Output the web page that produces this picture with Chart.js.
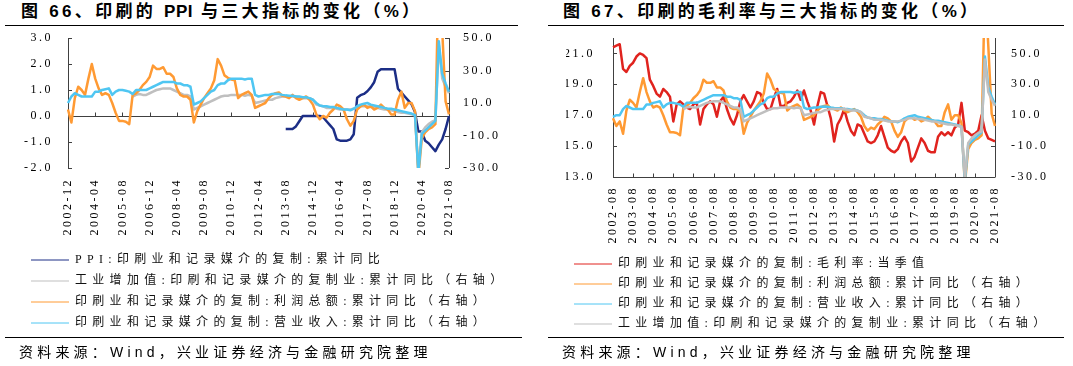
<!DOCTYPE html>
<html lang="zh-CN">
<head>
  <meta charset="UTF-8" />
  <title>印刷的 PPI、毛利率与三大指标的变化</title>
  <script src="https://cdn.jsdelivr.net/npm/chart.js"></script>
  <style>
    html, body {
      margin: 0;
      padding: 0;
      background: #fff;
    }
    body {
      width: 1073px;
      height: 366px;
      position: relative;
      overflow: hidden;
      font-family: "Liberation Sans", "Noto Sans CJK SC", sans-serif;
      color: #000;
    }
    .fig-title {
      position: absolute;
      top: 0;
      height: 26px;
      box-sizing: border-box;
      border-bottom: 1.3px solid #000;
      font-size: 17px;
      font-weight: bold;
      letter-spacing: 3.3px;
      line-height: 24px;
      white-space: nowrap;
    }
    .fig-title .latin {
      letter-spacing: 0.5px;
    }
    .fig-source {
      position: absolute;
      top: 337px;
      height: 29px;
      box-sizing: border-box;
      border-top: 1px solid #000;
      font-size: 14px;
      letter-spacing: 4.2px;
      line-height: 28px;
      white-space: nowrap;
    }
    .chart-box {
      position: absolute;
      top: 28px;
    }
  </style>
</head>
<body>
  <div class="fig-title" style="left:5px;width:513px;padding-left:16px">图 66、印刷的 <span class="latin">PPI</span> 与三大指标的变化（%）</div>
  <div class="fig-title" style="left:548px;width:516px;padding-left:15px">图 67、印刷的毛利率与三大指标的变化（%）</div>

  <div class="chart-box" style="left:0px;width:536px;height:311px">
    <canvas id="ppiChart" width="536" height="311"></canvas>
  </div>
  <div class="chart-box" style="left:540px;width:533px;height:312px">
    <canvas id="marginChart" width="533" height="312"></canvas>
  </div>

  <div class="fig-source" style="left:5px;width:517px;padding-left:14px">资料来源：Wind，兴业证券经济与金融研究院整理</div>
  <div class="fig-source" style="left:548px;width:516px;padding-left:14px">资料来源：Wind，兴业证券经济与金融研究院整理</div>

  <script>
    // bi-monthly categories, 2002-08 .. 2021-08
    const months = [];
    for (let k = 0; k < 115; k++) {
      const t = 2002 * 12 + 7 + 2 * k;
      months.push(Math.floor(t / 12) + '-' + String(t % 12 + 1).padStart(2, '0'));
    }
    const labels2 = months;            // 图67
    const labels1 = months.slice(2);   // 图66 starts 2002-12

    const tickLabels1 = ['2002-12', '2004-04', '2005-08', '2006-12', '2008-04', '2009-08', '2010-12', '2012-04',
      '2013-08', '2014-12', '2016-04', '2017-08', '2018-12', '2020-04', '2021-08'];
    const tickLabels2 = ['2002-08', '2003-08', '2004-08', '2005-08', '2006-08', '2007-08', '2008-08', '2009-08',
      '2010-08', '2011-08', '2012-08', '2013-08', '2014-08', '2015-08', '2016-08', '2017-08', '2018-08',
      '2019-08', '2020-08', '2021-08'];

    // 利润总额:累计同比 (%), 2002-08 .. 2021-08
    const profit = [8, 3,
      6, -2, 13, 20, 18, 15, 25, 34, 25, 19,
      15, 16, 15, 10, 4, -1, -1, -1.5, -3, 15,
      16, 18, 21, 23, 26, 33, 31, 31, 32, 28,
      28, 26, 19, 15, 14, 14, 12, -2, 5, 9,
      13, 16, 19, 24, 37, 33, 27, 25.5, 24.5, 24,
      13, 15, 16, 17, 15, 7, 8, 9, 10, 13,
      15, 16, 16.5, 14.5, 14, 13, 15, 13, 12, 13,
      14, 12, 9, 3, 0, 2, 1, 4, 6, 9,
      8, 6, 0, -4, -1, 6, 8, 9, 7, 8,
      6, 7, 9, 7, 6, 3, 3, 12, 17, 7,
      10, 10, 5, -35, -12, -8, -6, -5, -3, 95,
      55, 11, 3];

    // 营业收入:累计同比 (%)
    const revenue = [9, 10,
      10, 14, 16, 15, 14, 14, 14, 14, 17, 17,
      18, 18.5, 19, 15, 17, 18, 18, 17.5, 17, 15.5,
      18, 18, 18, 18, 19, 20, 21, 22, 23, 23,
      23, 23, 22, 22, 21, 21, 20, 9, 10, 11,
      13, 15, 17, 18, 21, 22, 22, 24, 25, 25,
      25, 25, 24.5, 25, 25, 15, 14, 14.5, 15, 15,
      15.5, 15.7, 15.5, 15, 14.7, 14.5, 14.5, 14, 14, 13.5,
      13.5, 13, 12, 10, 8.5, 8, 8, 7.5, 7.5, 7,
      6.5, 6, 6, 5.5, 6.5, 8, 9, 9.5, 10, 9,
      8.5, 8, 7.5, 7, 6.5, 6.5, 6, 5.5, 5, 4.5,
      4, 3.5, 2.5, -33, -9, -7, -5, -3, -1, 48,
      28, 22, 17];

    // 工业增加值:累计同比 (%), from 2006-02
    const valueAddedValues = [14,
      15, 15.5, 15, 15, 16, 17, 18, 18.5, 19, 19,
      19, 18, 17, 16, 15, 15, 14, 6, 7, 8,
      9, 10, 11, 12, 13, 14, 14.5, 14.5, 15, 15,
      15, 15, 14.5, 15, 14.5, 10, 10.5, 11, 11.5, 12,
      12, 13, 13.5, 14, 14, 14, 14, 14, 13.5, 13,
      13, 13, 12, 9, 8.5, 8, 7, 7, 7, 6.5,
      6, 6, 6, 6, 6.5, 7, 8, 8, 8, 7.5,
      7.5, 7, 6.5, 6, 6, 5.5, 5, 4.5, 4, 4,
      3.5, 3, 2.5, -31, -8, -5, -3, -1.5, -0.5, 46,
      25, 20, 16];

    // PPI:累计同比 (%), from 2013-08
    const ppiValues = [-0.5, -0.5, -0.5, -0.4, -0.2, 0,
      0, 0, 0, 0, 0, -0.05, -0.2, -0.35, -0.5, -0.9,
      -0.95, -0.95, -0.95, -0.9, -0.7, 0.7, 0.8, 0.85, 0.95, 1.1,
      1.3, 1.7, 1.8, 1.8, 1.8, 1.8, 1.8, 1.05, 0.9, 0.75,
      0.6, 0.45, 0.15, -0.6, -0.6, -0.95, -1.05, -1.2, -1.35, -1.1,
      -0.9, -0.5, 0];

    // 毛利率:当季值 (%)
    const grossMargin = [21.4, 21.5, 21.6, 20.0, 19.8, 20.2, 20.4, 20.8, 21.0, 20.9,
      20.7, 19.3, 18.9, 18.4, 18.2, 18.7, 18.5, 18.2, 16.6, 17.7,
      17.9, 17.7, 17.5, 17.4, 17.7, 17.8, 16.4, 17.4, 17.7, 17.9,
      17.7, 16.9, 17.9, 18.2, 17.4, 16.8, 16.4, 17.0, 17.9, 18.3,
      17.9, 17.5, 17.9, 18.5, 18.4, 17.8, 17.4, 17.4, 18.1, 18.7,
      17.6, 17.6, 17.8, 17.9, 18.2, 18.6, 18.0, 18.6, 17.9, 17.3,
      16.4, 17.6, 18.5, 18.4, 17.6, 16.8, 15.3, 16.4, 16.8, 17.4,
      16.6, 16.0, 15.7, 16.4, 16.3, 15.8, 15.3, 15.2, 15.3, 15.7,
      16.3, 15.6, 14.9, 14.7, 14.6, 14.8, 15.3, 15.6, 15.2, 14.0,
      14.3, 14.9, 15.5, 15.2, 14.7, 14.6, 14.6, 15.6, 15.9, 15.7,
      15.9, 15.7, 16.2, 16.4, 17.8, 16.0, 15.9, 15.7, 15.8, 16.0,
      17.0, 16.0, 15.5, 15.4, 15.3];

    // leading gaps for series that start later
    const lead = (n, arr) => Array(n - arr.length).fill(null).concat(arr);
    const valueAdded = lead(labels2.length, valueAddedValues);
    const ppi = lead(labels1.length, ppiValues);

    const NAVY = '#1c2e86';
    const GREY = '#bfbfbf';
    const ORANGE = '#ff9a33';
    const BLUE = '#4fc6f2';
    const RED = '#e0231e';

    const serif = '"Liberation Serif", "Noto Sans CJK SC", serif';

    // axis lines with inward tick marks, drawn under the series
    const axisFrame = {
      id: 'axisFrame',
      beforeDatasetsDraw(chart, args, opts) {
        const {ctx, chartArea: a, scales} = chart;
        const px = v => Math.round(v) + 0.5;
        const baseY = opts.baseValue === undefined ? a.bottom : scales.y.getPixelForValue(opts.baseValue);
        ctx.save();
        ctx.strokeStyle = '#404040';
        ctx.lineWidth = 1;
        ctx.beginPath();
        ctx.moveTo(px(a.left), a.top); ctx.lineTo(px(a.left), a.bottom);
        ctx.moveTo(px(a.right), a.top); ctx.lineTo(px(a.right), a.bottom);
        ctx.moveTo(a.left, px(baseY)); ctx.lineTo(a.right, px(baseY));
        scales.y.ticks.forEach(t => {
          const y = px(scales.y.getPixelForValue(t.value));
          ctx.moveTo(a.left, y); ctx.lineTo(a.left + 4, y);
        });
        scales.y1.ticks.forEach(t => {
          const y = px(scales.y1.getPixelForValue(t.value));
          ctx.moveTo(a.right, y); ctx.lineTo(a.right - 4, y);
        });
        scales.x.ticks.forEach(t => {
          const x = px(scales.x.getPixelForValue(t.value));
          ctx.moveTo(x, px(baseY)); ctx.lineTo(x, px(baseY) - 4);
        });
        ctx.stroke();
        ctx.restore();
      }
    };

    // the source picture has wide letter spacing on every text
    const letterSpacing = {
      id: 'letterSpacing',
      beforeDraw(chart, args, opts) {
        Object.values(chart.scales).forEach(scale => {
          if (scale._spaced) return;
          const orig = scale.drawLabels;
          scale.drawLabels = function (area) {
            this.ctx.save();
            this.ctx.letterSpacing = opts[this.id] || '0px';
            orig.call(this, area);
            this.ctx.restore();
          };
          scale._spaced = true;
        });
        const legend = chart.legend;
        if (legend && !legend._spaced) {
          const orig = legend.draw;
          legend.draw = function (area) {
            this.ctx.save();
            this.ctx.letterSpacing = opts.legend || '0px';
            orig.call(this, area);
            this.ctx.restore();
          };
          legend._spaced = true;
        }
      }
    };

    function xScale(tickLabels, height, padding) {
      return {
        type: 'category',
        offset: false,
        grid: { display: false, drawTicks: false },
        border: { display: false },
        ticks: {
          autoSkip: false,
          maxRotation: 90,
          minRotation: 90,
          padding: padding,
          color: '#000',
          font: { family: serif, size: 12 }
        },
        afterBuildTicks: s => {
          s.ticks = s.ticks.filter(t => tickLabels.includes(s.getLabelForValue(t.value)));
        },
        afterFit: s => { s.height = height; }
      };
    }

    // gap between axis line and labels comes from tickLength (the marks themselves are drawn by axisFrame)
    function yScale(position, min, max, tickValues, width, gap) {
      return {
        position: position,
        min: min,
        max: max,
        grid: { display: false, drawTicks: true, tickLength: gap },
        border: { display: false },
        ticks: {
          padding: 2,
          color: '#000',
          font: { family: serif, size: 12 },
          callback: v => Number(v).toFixed(1)
        },
        afterBuildTicks: s => { s.ticks = tickValues.map(v => ({ value: v })); },
        afterFit: s => { s.width = width; }
      };
    }

    function legendOptions(padding) {
      return {
        position: 'bottom',
        align: 'start',
        labels: {
          usePointStyle: true,
          pointStyle: 'line',
          pointStyleWidth: 38,
          padding: padding,
          color: '#111',
          font: { family: serif, size: 12 },
          sort: (a, b) => a.datasetIndex - b.datasetIndex
        }
      };
    }

    const common = {
      responsive: false,
      animation: false,
      events: [],
      elements: {
        line: { borderWidth: 2.5, tension: 0, borderJoinStyle: 'round' },
        point: { radius: 0 }
      }
    };

    new Chart(document.getElementById('ppiChart'), {
      type: 'line',
      data: {
        labels: labels1,
        datasets: [
          { label: 'PPI:印刷业和记录媒介的复制:累计同比', data: ppi, borderColor: NAVY, backgroundColor: NAVY, yAxisID: 'y', order: 3 },
          { label: '工业增加值:印刷和记录媒介的复制业:累计同比（右轴）', data: valueAdded.slice(2), borderColor: GREY, backgroundColor: GREY, yAxisID: 'y1', order: 2 },
          { label: '印刷业和记录媒介的复制:利润总额:累计同比（右轴）', data: profit.slice(2), borderColor: ORANGE, backgroundColor: ORANGE, yAxisID: 'y1', order: 1 },
          { label: '印刷业和记录媒介的复制:营业收入:累计同比（右轴）', data: revenue.slice(2), borderColor: BLUE, backgroundColor: BLUE, yAxisID: 'y1', order: 0 }
        ]
      },
      options: {
        ...common,
        layout: { padding: { left: 22, right: 0, top: 10, bottom: 0 } },
        scales: {
          x: xScale(tickLabels1, 77, 10),
          y: yScale('left', -2, 3, [-2, -1, 0, 1, 2, 3], 46, 13),
          y1: yScale('right', -30, 50, [-30, -10, 10, 30, 50], 87, 12)
        },
        plugins: {
          legend: legendOptions(9),
          tooltip: { enabled: false },
          axisFrame: { baseValue: 0 },
          letterSpacing: { x: '2.5px', y: '2.5px', y1: '2.5px', legend: '5.3px' }
        }
      },
      plugins: [axisFrame, letterSpacing]
    });

    new Chart(document.getElementById('marginChart'), {
      type: 'line',
      data: {
        labels: labels2,
        datasets: [
          { label: '印刷业和记录媒介的复制:毛利率:当季值', data: grossMargin, borderColor: RED, backgroundColor: RED, yAxisID: 'y', order: 3 },
          { label: '印刷业和记录媒介的复制:利润总额:累计同比（右轴）', data: profit, borderColor: ORANGE, backgroundColor: ORANGE, yAxisID: 'y1', order: 2 },
          { label: '印刷业和记录媒介的复制:营业收入:累计同比（右轴）', data: revenue, borderColor: BLUE, backgroundColor: BLUE, yAxisID: 'y1', order: 1 },
          { label: '工业增加值:印刷和记录媒介的复制业:累计同比（右轴）', data: valueAdded, borderColor: GREY, backgroundColor: GREY, yAxisID: 'y1', order: 0 }
        ]
      },
      options: {
        ...common,
        layout: { padding: { left: 26, right: 0, top: 10, bottom: 0 } },
        scales: {
          x: xScale(tickLabels2, 73, 9),
          y: yScale('left', 13, 22, [13, 15, 17, 19, 21], 47, 16),
          y1: yScale('right', -30, 60, [-30, -10, 10, 30, 50], 78, 14)
        },
        plugins: {
          legend: legendOptions(8),
          tooltip: { enabled: false },
          axisFrame: {},
          letterSpacing: { x: '2.5px', y: '2.5px', y1: '2.5px', legend: '5.3px' }
        }
      },
      plugins: [axisFrame, letterSpacing]
    });
  </script>
</body>
</html>
